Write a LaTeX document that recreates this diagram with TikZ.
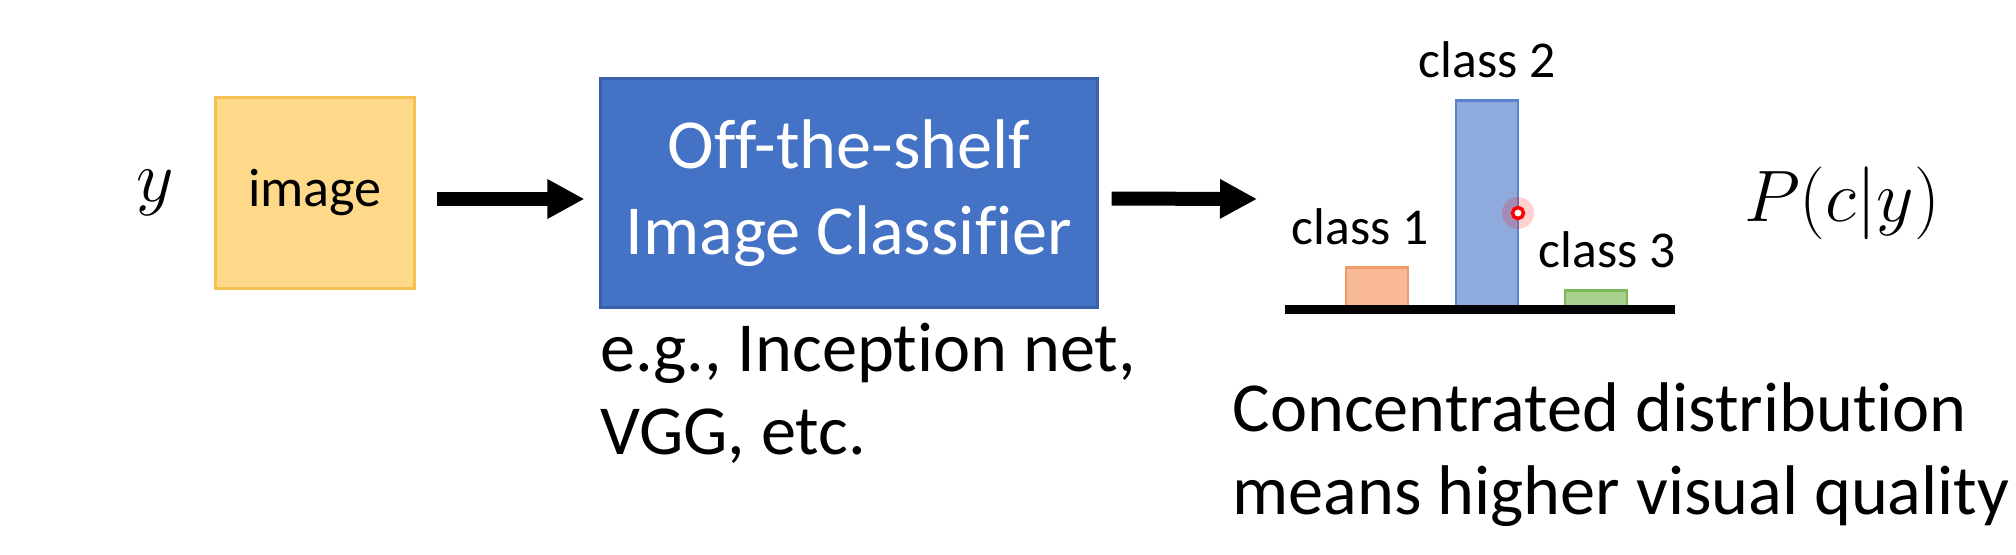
\documentclass[tikz,border=0pt]{standalone}
\usepackage{fontspec}
\setmainfont[Ligatures=NoCommon]{Carlito}
\usepackage{tikz}
\usetikzlibrary{shapes, arrows.meta, positioning}
\definecolor{imgfill}{HTML}{FFD98A}
\definecolor{imgline}{HTML}{F5C150}
\definecolor{clfblue}{HTML}{4472C4}
\definecolor{orangebar}{HTML}{F8B994}
\definecolor{orangeline}{HTML}{EE9A6A}
\definecolor{bluebar}{HTML}{8FAADC}
\definecolor{blueline}{HTML}{5B82CC}
\definecolor{greenbar}{HTML}{A9D18E}
\definecolor{greenline}{HTML}{7DB85A}
\tikzstyle{every node}=[font=\fontsize{20}{23.5}\selectfont, inner sep=0pt]
\tikzstyle{block}=[draw,rectangle,line width=.6pt]
\tikzstyle{classbar}=[draw,rectangle,line width=.8pt,minimum width=.62cm,anchor=south]
\tikzstyle{classlabel}=[font=\fontsize{14.7}{17}\selectfont]
\tikzstyle{bigarrow}=[line width=.14cm,-{Triangle[length=.37cm,width=.37cm]}]
\newcommand{\bigmath}{\fontsize{21}{24}\selectfont}

\begin{document}
\begin{tikzpicture}[node distance=1.6cm,>=latex]
    \useasboundingbox (0,0) rectangle (20.16,-5.54);
    \node[font=\bigmath] (y) at (1.55,-1.93) {$y$};
    \node[block, fill=imgfill, draw=imgline, minimum width=1.99cm, minimum height=1.91cm, right of=y, font=\fontsize{15.4}{18}\selectfont] (img) {image};
    \node[block, fill=clfblue, draw=clfblue!85!black, text=white, minimum width=4.97cm, minimum height=2.29cm, align=center, right of=img, node distance=5.34cm, font=\fontsize{20}{24.5}\selectfont] (clf) {Off-the-shelf\\Image Classifier};
    \node[align=left, below=.14cm of clf.south west, anchor=north west] (eg) {e.g., Inception net,\\VGG, etc.};
    \coordinate (out) at (12.57,-1.99);
    % bar chart
    \node[classbar, fill=orangebar, draw=orangeline, minimum height=.41cm] (c1) at (13.77,-3.095) {};
    \node[classbar, fill=bluebar, draw=blueline, minimum height=2.08cm] (c2) at (14.87,-3.095) {};
    \node[classbar, fill=greenbar, draw=greenline, minimum height=.18cm] (c3) at (15.96,-3.095) {};
    \draw[line width=.09cm] (12.85,-3.095) -- (16.75,-3.095);
    \node[classlabel, above=.2cm of c1, xshift=-.17cm] (l1) {class 1};
    \node[classlabel, above=.2cm of c2] (l2) {class 2};
    \node[classlabel, above=.2cm of c3, xshift=.11cm] (l3) {class 3};
    \fill[red, opacity=.18] (15.18,-2.13) circle (.16);
    \node[circle, draw=red, fill=white, line width=.035cm, minimum size=.11cm] (dot) at (15.18,-2.13) {};
    \node[font=\bigmath] (p) at (18.42,-2.03) {$P(c|y)$};
    \node[align=left, anchor=north west] (note) at (12.32,-3.82) {Concentrated distribution\\means higher visual quality};
    \draw[bigarrow, shorten <=.21cm, shorten >=.15cm] ([yshift=-.06cm]img.east) -- ([yshift=-.06cm]clf.west);
    \draw[bigarrow, shorten <=.13cm] ([yshift=-.055cm]clf.east) -- (out);
\end{tikzpicture}
\end{document}
